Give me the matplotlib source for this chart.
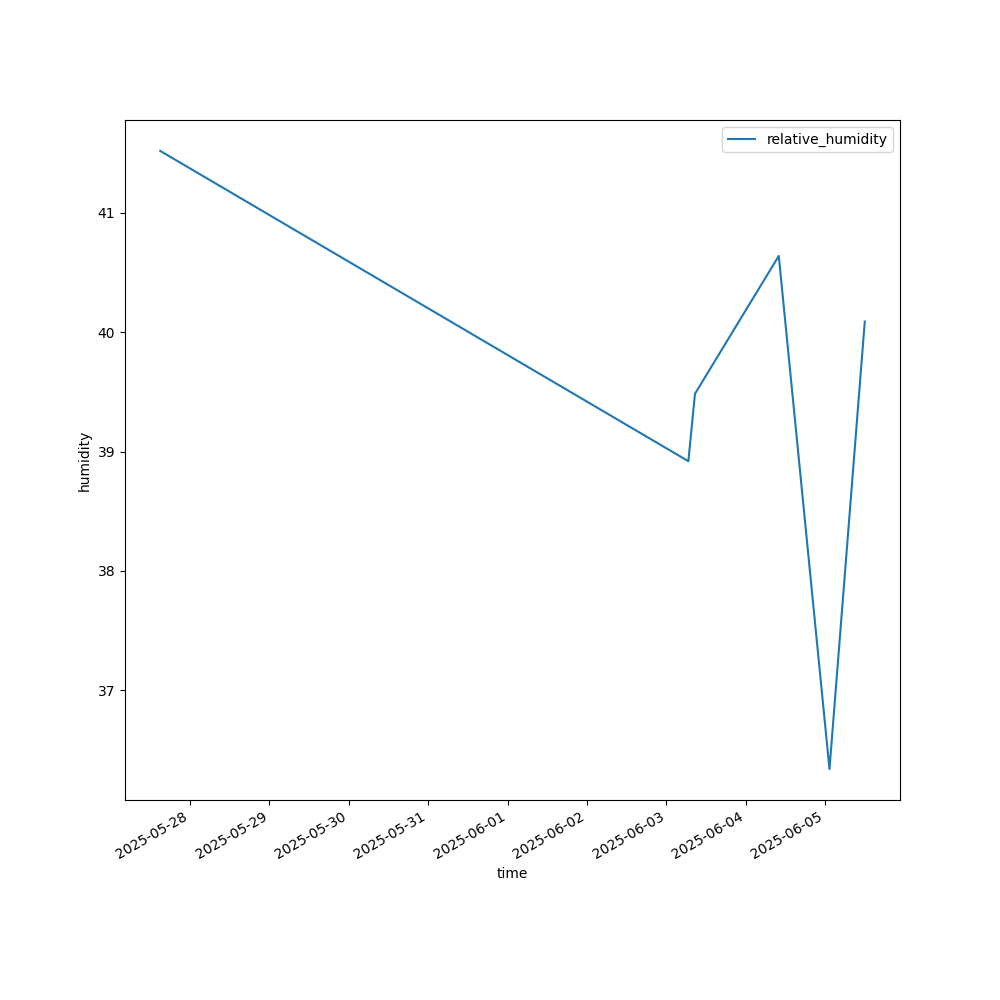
import pandas as pd
import matplotlib
matplotlib.use("Agg")
import matplotlib.pyplot as plt

# readings
times = ["2025-05-27 15:00", "2025-06-03 06:40", "2025-06-03 08:40",
         "2025-06-04 10:00", "2025-06-05 01:20", "2025-06-05 12:00"]
humidity = [41.52, 38.92, 39.485, 40.64, 36.34, 40.09]

df = pd.DataFrame({"time": pd.to_datetime(times), "relative_humidity": humidity})

fig, ax = plt.subplots(figsize=(10, 10), dpi=100)
ax.plot(df["time"], df["relative_humidity"], label="relative_humidity")
ax.set_xlabel("time")
ax.set_ylabel("humidity")
ax.legend()
fig.autofmt_xdate()
fig.savefig("out.png")
